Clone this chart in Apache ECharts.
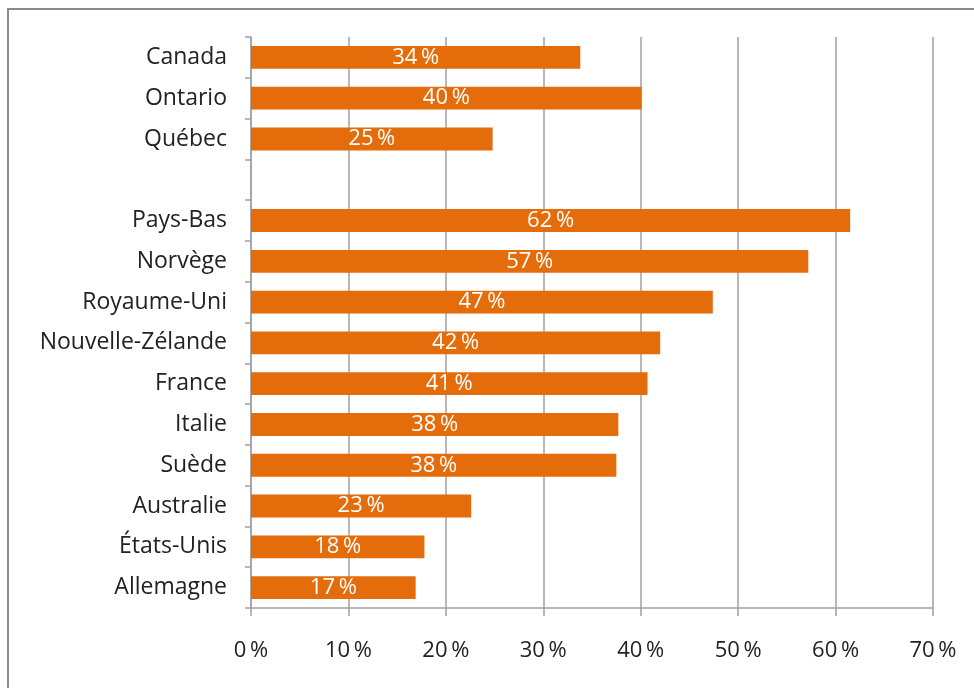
<!DOCTYPE html>
<html>
<head>
<meta charset="utf-8">
<script src="https://cdn.jsdelivr.net/npm/echarts@6/dist/echarts.min.js"></script>
<style>
    body { margin: 0; background: #fff; }
    #frame { position: absolute; left: 7px; top: 8px; width: 980px; height: 700px; border-top: 2px solid #8a8a8a; border-left: 2px solid #8a8a8a; }
    #main { position: absolute; left: 0; top: 0; width: 974px; height: 688px; }
</style>
</head>
<body>
<div id="frame"></div>
<div id="main"></div>
<script>
// catégories (de haut en bas) et valeurs
var categories = ["Canada", "Ontario", "Québec", "", "Pays-Bas", "Norvège", "Royaume-Uni",
    "Nouvelle-Zélande", "France", "Italie", "Suède", "Australie", "États-Unis", "Allemagne"];
var values = [33.8, 40.1, 24.8, null, 61.5, 57.2, 47.4, 42.0, 40.7, 37.7, 37.5, 22.6, 17.8, 16.9];
var xTicks = [0, 10, 20, 30, 40, 50, 60, 70];

var myChart = echarts.init(document.getElementById('main'));

var option = {
    animation: false,
    textStyle: { fontFamily: 'Open Sans' },
    grid: { left: 251, right: 41, top: 37, bottom: 80 },
    xAxis: {
        type: 'value',
        min: xTicks[0],
        max: xTicks[xTicks.length - 1],
        interval: 10,
        axisLine: { show: true, lineStyle: { color: '#a0a0a0', width: 1.5 } },
        axisTick: { show: true, length: 8, lineStyle: { color: '#a0a0a0', width: 1.5 } },
        splitLine: { show: true, lineStyle: { color: '#a0a0a0', width: 1.5 } },
        axisLabel: { formatter: '{value}\u2009%', color: '#222', fontSize: 22, margin: 32 }
    },
    yAxis: {
        type: 'category',
        inverse: true,
        data: categories,
        axisLine: { show: true, lineStyle: { color: '#a0a0a0', width: 1.5 } },
        axisTick: { show: true, length: 6, lineStyle: { color: '#a0a0a0', width: 1.5 } },
        axisLabel: { color: '#222', fontSize: 23, margin: 24 }
    },
    series: [{
        type: 'bar',
        data: values,
        barCategoryGap: '44%',
        itemStyle: { color: '#e46c0a' },
        label: {
            show: true,
            position: 'inside',
            color: '#fff',
            fontSize: 22,
            fontWeight: 500,
            formatter: function (p) { return Math.round(p.value) + '\u2009%'; }
        }
    }]
};

myChart.setOption(option);
</script>
</body>
</html>
